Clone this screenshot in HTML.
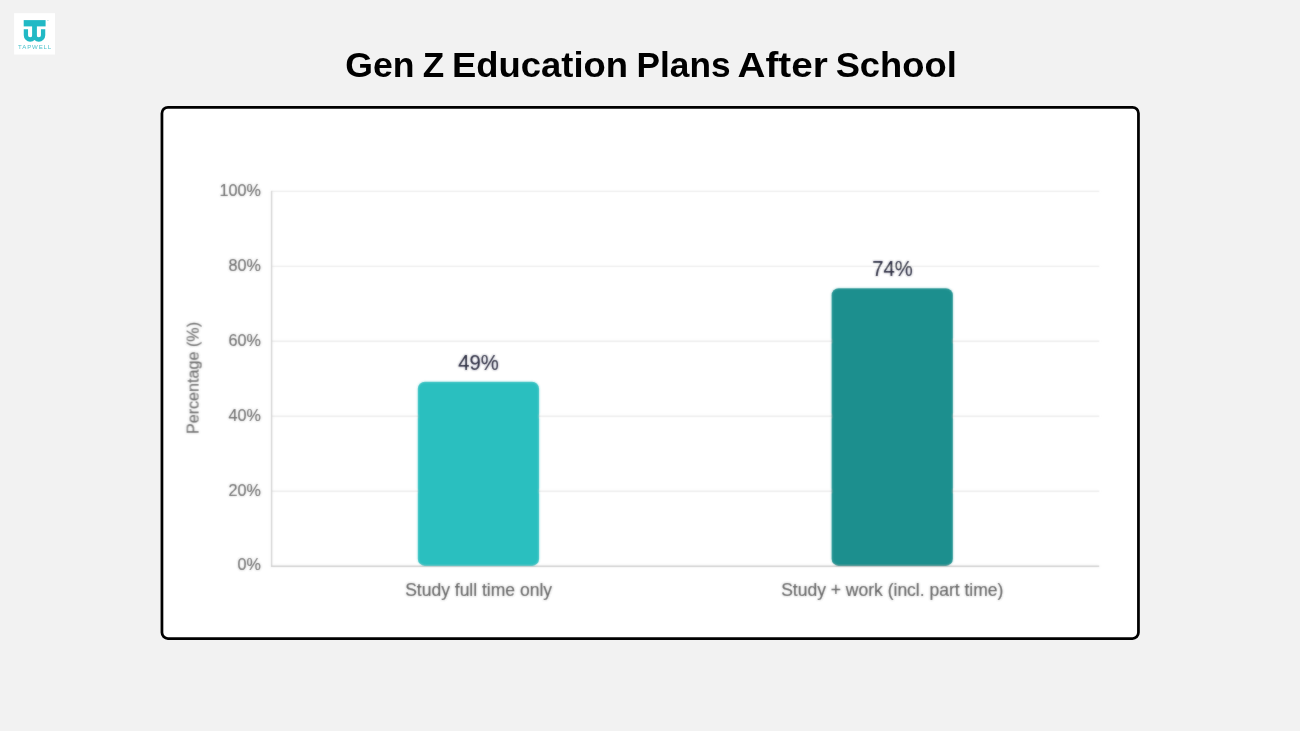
<!DOCTYPE html>
<html lang="en">
<head>
<meta charset="utf-8">
<title>Gen Z Education Plans After School</title>
<style>
  html,body{margin:0;padding:0;}
  body{width:1300px;height:731px;background:#f2f2f2;position:relative;overflow:hidden;
       font-family:"Liberation Sans",Arial,sans-serif;}
  .abs{position:absolute;}
  #chart{left:0;top:0;}
  #chart text{font-family:"Liberation Sans",Arial,sans-serif;}
  .tick{font-size:16.2px;fill:#6a6a6a;stroke:#6a6a6a;stroke-width:0.18px;text-anchor:end;}
  .xl{font-size:17.5px;fill:#606060;stroke:#606060;stroke-width:0.18px;text-anchor:middle;}
  .val{font-size:22.6px;fill:#222439;stroke:#222439;stroke-width:0.18px;text-anchor:middle;}
  .grid{stroke:#ececec;stroke-width:1.4;}
</style>
</head>
<body>
<svg id="chart" class="abs" width="1300" height="731" viewBox="0 0 1300 731">
  <!-- logo -->
  <rect x="14.1" y="13.2" width="40.9" height="41.3" fill="#fff"/>
  <g transform="translate(14,13.5)">
    <g fill="none" stroke="#21b9c5">
      <path d="M9.7 9.75 H31.6" stroke-width="6.3"/>
      <path d="M20.5 12 V26" stroke-width="4.8"/>
      <path d="M11.9 15.7 V21.7 a4.3 4.3 0 0 0 8.6 0 a4.3 4.3 0 0 0 8.6 0 V15.7" stroke-width="4.3"/>
    </g>
    <text x="21.1" y="35.2" font-size="6.1" fill="#4cc2cc" text-anchor="middle" letter-spacing="0.85">TAPWELL</text>
    <text x="32.9" y="7.4" font-size="1.5" fill="#7fd3db">TM</text>
  </g>

  <!-- card -->
  <rect x="161.95" y="107.3" width="976.5" height="531.3" rx="6" ry="6" fill="#fff" stroke="#000" stroke-width="2.75"/>

  <defs><filter id="soft" x="0" y="0" width="1300" height="731" filterUnits="userSpaceOnUse"><feGaussianBlur stdDeviation="0.8" result="b"/><feComposite in="SourceGraphic" in2="b" operator="arithmetic" k1="0" k2="0.5" k3="0.5" k4="0"/></filter></defs>
  <g filter="url(#soft)">
  <!-- gridlines -->
  <g class="grid">
    <line x1="272" y1="191.4" x2="1099.2" y2="191.4"/>
    <line x1="272" y1="266.4" x2="1099.2" y2="266.4"/>
    <line x1="272" y1="341.3" x2="1099.2" y2="341.3"/>
    <line x1="272" y1="416.3" x2="1099.2" y2="416.3"/>
    <line x1="272" y1="491.3" x2="1099.2" y2="491.3"/>
  </g>
  <!-- axes -->
  <line x1="271.6" y1="190.8" x2="271.6" y2="566.9" stroke="#d1d1d1" stroke-width="1.4"/>
  <line x1="271" y1="566.3" x2="1099.2" y2="566.3" stroke="#cccccc" stroke-width="1.4"/>

  <!-- y ticks -->
  <text class="tick" x="261" y="195.6">100%</text>
  <text class="tick" x="261" y="270.6">80%</text>
  <text class="tick" x="261" y="345.5">60%</text>
  <text class="tick" x="261" y="420.5">40%</text>
  <text class="tick" x="261" y="495.5">20%</text>
  <text class="tick" x="261" y="570.4">0%</text>

  <!-- y title -->
  <text transform="translate(198.6,378) rotate(-90)" font-size="16.15" fill="#686868" stroke="#686868" stroke-width="0.18" text-anchor="middle">Percentage (%)</text>

  <!-- bars -->
  <rect x="417.8" y="381.8" width="121.3" height="184.1" rx="7" ry="7" fill="#2bbfbf"/>
  <rect x="831.6" y="288.2" width="121.3" height="277.7" rx="7" ry="7" fill="#1b8f8e"/>

  <!-- value labels -->
  <text class="val" transform="translate(478.5,369.6) scale(0.897,1)">49%</text>
  <text class="val" transform="translate(892.4,275.9) scale(0.897,1)">74%</text>

  <!-- x labels -->
  <text class="xl" x="478.6" y="595.7">Study full time only</text>
  <text class="xl" x="892.3" y="595.7">Study + work (incl. part time)</text>
  </g>
  <!-- title -->
  <text id="ttl" y="76.7" font-weight="700" font-size="35.9" fill="#000" style="font-kerning:none"><tspan x="345.34" textLength="69.27" lengthAdjust="spacingAndGlyphs">Gen</tspan> <tspan x="422.65" textLength="21.46" lengthAdjust="spacingAndGlyphs">Z</tspan> <tspan x="452.06" textLength="175.99" lengthAdjust="spacingAndGlyphs">Education</tspan> <tspan x="636.54" textLength="94.00" lengthAdjust="spacingAndGlyphs">Plans</tspan> <tspan x="737.54" textLength="90.25" lengthAdjust="spacingAndGlyphs">After</tspan> <tspan x="835.65" textLength="121.12" lengthAdjust="spacingAndGlyphs">School</tspan></text>
</svg>
</body>
</html>
